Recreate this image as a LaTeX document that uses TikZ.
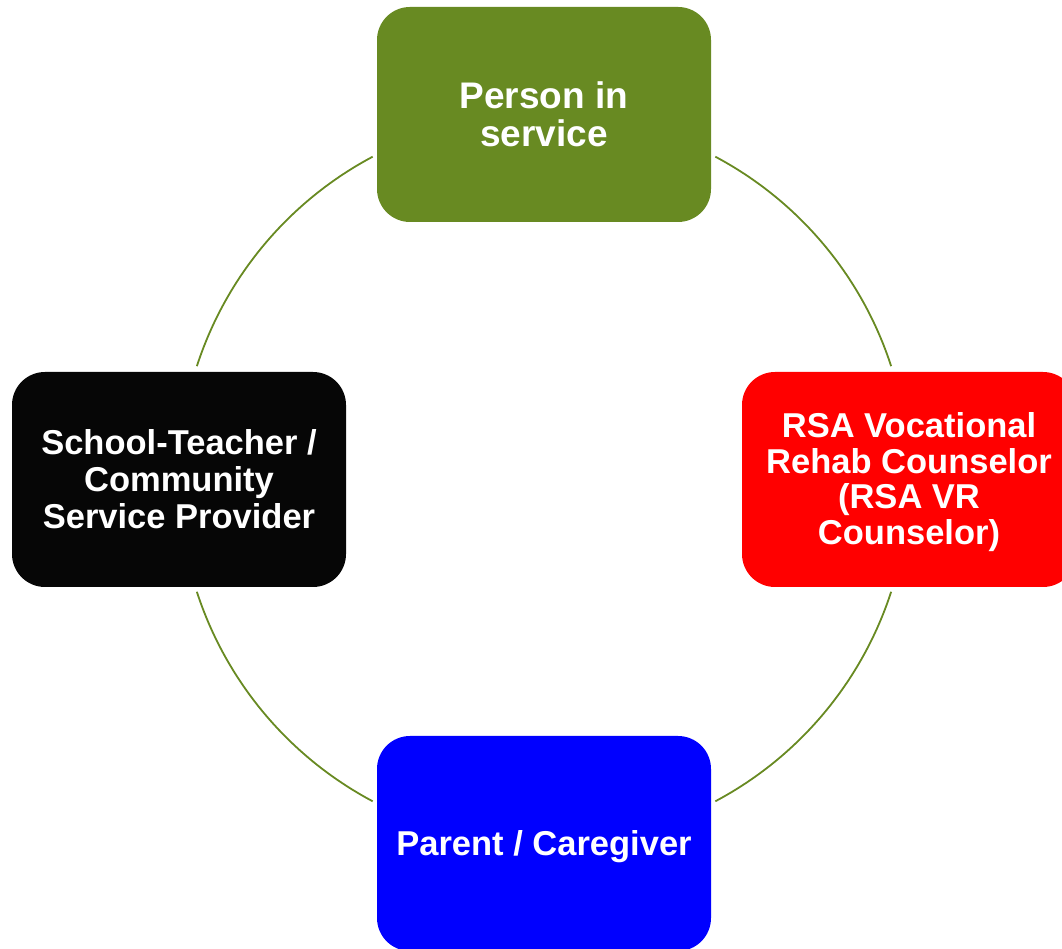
\documentclass[tikz,border=0pt]{standalone}
\usepackage{fontspec}
\setmainfont{Liberation Sans}
\usetikzlibrary{calc}
\definecolor{boxgreen}{RGB}{104,138,34}
\definecolor{arcgreen}{RGB}{104,138,34}
\definecolor{boxred}{RGB}{255,0,0}
\definecolor{boxblue}{RGB}{0,0,255}
\definecolor{boxblack}{RGB}{6,6,6}
\tikzset{
  rolebox/.style={rounded corners=33pt, minimum width=334pt, minimum height=215pt,
    inner sep=0pt, align=center, text=white,
    font=\bfseries\fontsize{34.5}{37}\selectfont},
  ring/.style={draw=arcgreen, line width=1.8pt}
}
\begin{document}
\begin{tikzpicture}[x=1pt,y=1pt]
\useasboundingbox (0,0) rectangle (1062,949);
\coordinate (c) at (544,470);
\node[rolebox, fill=boxgreen, font=\bfseries\fontsize{37}{38}\selectfont] (top) at (544,834.5) {Person in\\service};
\node[rolebox, fill=boxred, font=\bfseries\fontsize{34.5}{35.8}\selectfont] (right) at (909,469.5) {};
\node[text=white, align=center, font=\bfseries\fontsize{34.5}{35.8}\selectfont] (righttext) at ([yshift=-2.5pt]right.center) {RSA Vocational\\Rehab Counselor\\(RSA VR\\Counselor)};
\node[rolebox, fill=boxblue] (bottom) at (544,105.5) {};
\node[text=white, font=\bfseries\fontsize{34.5}{37}\selectfont] (bottomtext) at ([yshift=-3pt]bottom.center) {Parent / Caregiver};
\node[rolebox, fill=boxblack] (left) at (179,469.5) {School-Teacher /\\Community\\Service Provider};
\coordinate (a1) at ($(c)+(118:365)$);
\coordinate (a2) at ($(c)+(62:365)$);
\coordinate (a3) at ($(c)+(-18:365)$);
\coordinate (a4) at ($(c)+(198:365)$);
\draw[ring] (a1) arc[start angle=118, end angle=162, radius=365];
\draw[ring] (a2) arc[start angle=62, end angle=18, radius=365];
\draw[ring] (a3) arc[start angle=-18, end angle=-62, radius=365];
\draw[ring] (a4) arc[start angle=198, end angle=242, radius=365];
\end{tikzpicture}
\end{document}
